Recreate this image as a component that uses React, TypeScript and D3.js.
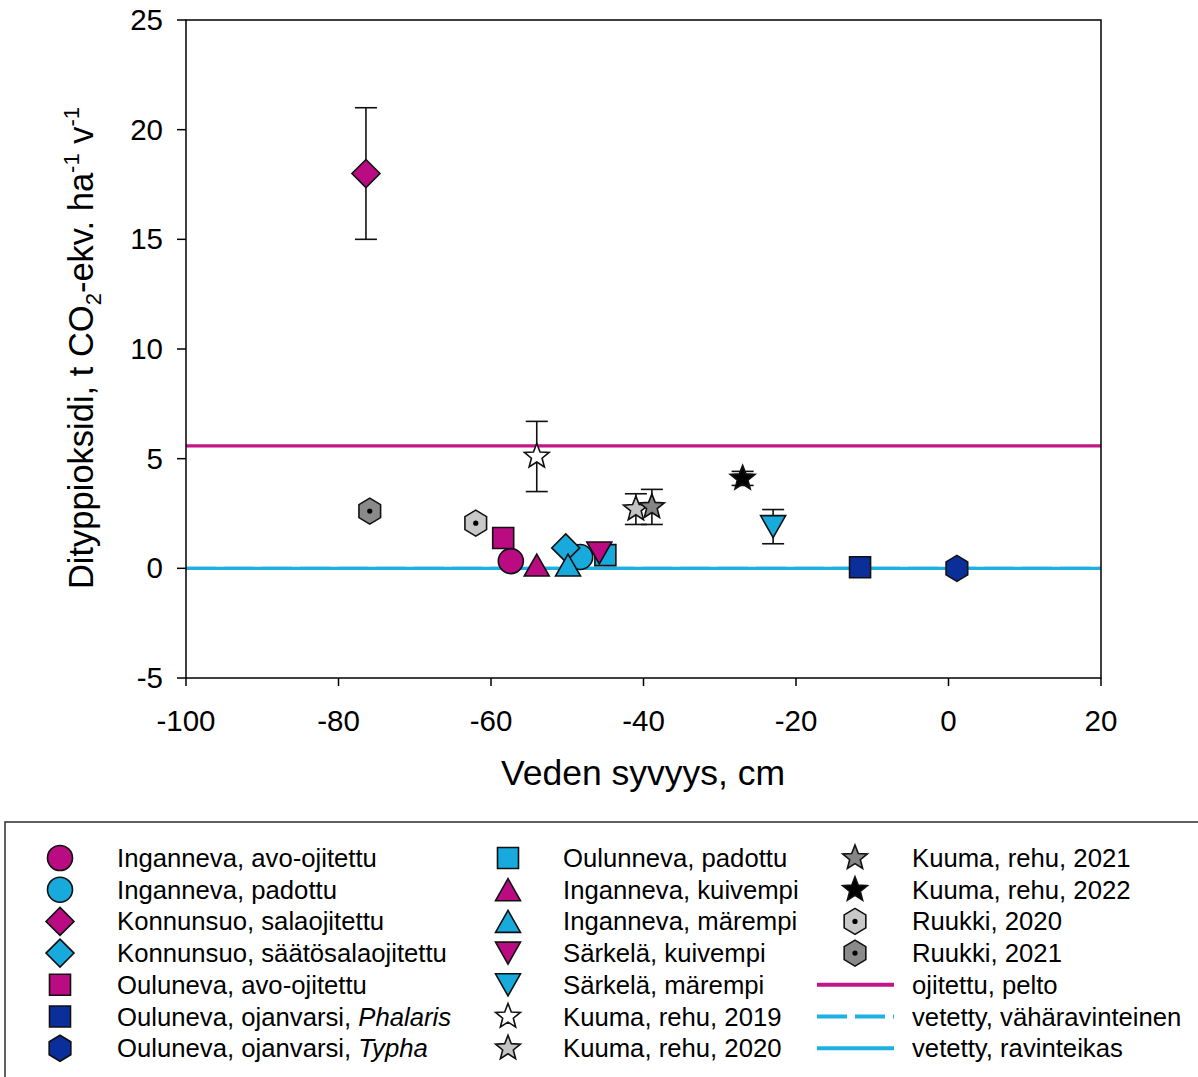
import React from 'react'
import * as d3 from 'd3'

const width = 1198
const height = 1077
const plot = { left: 186, right: 1101, top: 20, bottom: 678 }

const MAG = '#BA0B82'
const CYAN = '#18A9DD'
const NAVY = '#0A2E9A'

// series, in legend order
const names = [
  'Inganneva, avo-ojitettu',
  'Inganneva, padottu',
  'Konnunsuo, salaojitettu',
  'Konnunsuo, säätösalaojitettu',
  'Ouluneva, avo-ojitettu',
  'Ouluneva, ojanvarsi, |Phalaris',
  'Ouluneva, ojanvarsi, |Typha',
  'Oulunneva, padottu',
  'Inganneva, kuivempi',
  'Inganneva, märempi',
  'Särkelä, kuivempi',
  'Särkelä, märempi',
  'Kuuma, rehu, 2019',
  'Kuuma, rehu, 2020',
  'Kuuma, rehu, 2021',
  'Kuuma, rehu, 2022',
  'Ruukki, 2020',
  'Ruukki, 2021',
]
const depth = [-57.4, -48.3, -76.4, -50.2, -58.4, -11.6, 1.1, -45, -54, -49.9, -45.8, -23, -54, -41, -38.9, -27, -62, -75.9]
const emission = [0.33, 0.52, 18, 0.93, 1.38, 0.05, 0, 0.6, 0.15, 0.15, 0.7, 1.9, 5.1, 2.7, 2.8, 4.1, 2.06, 2.61]
const errors = [0, 0, 3, 0, 0, 0, 0, 0, 0, 0, 0, 0.78, 1.6, 0.7, 0.8, 0.32, 0, 0]

// reference lines
const refNames = ['ojitettu, pelto', 'vetetty, vähäravinteinen', 'vetetty, ravinteikas']
const refValues = [5.58, 0, 0]

const xTicks = [-100, -80, -60, -40, -20, 0, 20]
const yTicks = [-5, 0, 5, 10, 15, 20, 25]

// styles
const shapes = ['circle', 'circle', 'diamond', 'diamond', 'square', 'square', 'hexagon', 'square', 'triUp', 'triUp', 'triDown', 'triDown', 'star', 'star', 'star', 'star', 'hexDot', 'hexDot']
const fills = [MAG, CYAN, MAG, CYAN, MAG, NAVY, NAVY, CYAN, MAG, CYAN, MAG, CYAN, '#ffffff', '#c4c4c4', '#858585', '#000000', '#c8c8c8', '#8a8a8a']
const refColors = ['#C2158A', '#1DB0E2', '#1DB0E2']
const refDash = ['', '30 8', '']

const shapePath = (shape: string) => {
  switch (shape) {
    case 'circle': {
      const r = 12.5
      return `M${-r},0a${r},${r} 0 1,0 ${2 * r},0a${r},${r} 0 1,0 ${-2 * r},0Z`
    }
    case 'diamond':
      return 'M0,-14L14,0L0,14L-14,0Z'
    case 'square':
      return 'M-10.5,-10.5H10.5V10.5H-10.5Z'
    case 'triUp':
      return 'M0,-11L12.5,11L-12.5,11Z'
    case 'triDown':
      return 'M-12.5,-11L12.5,-11L0,11Z'
    case 'star': {
      const pts = d3.range(10).map(i => {
        const r = i % 2 === 0 ? 13 : 5.6
        const a = -Math.PI / 2 + (i * Math.PI) / 5
        return [r * Math.cos(a), r * Math.sin(a)]
      })
      return 'M' + pts.map(p => p.join(',')).join('L') + 'Z'
    }
    default: {
      const pts = d3.range(6).map(i => {
        const a = -Math.PI / 2 + (i * Math.PI) / 3
        return [12.5 * Math.cos(a), 13 * Math.sin(a)]
      })
      return 'M' + pts.map(p => p.join(',')).join('L') + 'Z'
    }
  }
}

const Marker = ({ i, cx, cy }: { i: number; cx: number; cy: number }) => (
  <g transform={`translate(${cx},${cy})`}>
    <path d={shapePath(shapes[i])} fill={fills[i]} stroke="#111" strokeWidth={1.6} strokeLinejoin="miter" />
    {shapes[i] === 'hexDot' && <circle r={2.6} fill="#000" />}
  </g>
)

const Label = ({ text }: { text: string }) => {
  const [a, b] = text.split('|')
  return (
    <>
      {a}
      {b && <tspan fontStyle="italic">{b}</tspan>}
    </>
  )
}

export default function App() {
  const x = d3.scaleLinear().domain([-100, 20]).range([plot.left, plot.right])
  const y = d3.scaleLinear().domain([-5, 25]).range([plot.bottom, plot.top])
  const font = '"Liberation Sans", Arial, sans-serif'

  const rowY = (r: number) => 858 + r * 31.7
  const cols = [
    { sym: 60, text: 117 },
    { sym: 508, text: 563 },
    { sym: 855, text: 912 },
  ]
  const legendItems: { col: number; row: number; i: number }[] = names.map((_, i) => ({
    col: Math.floor(i / 7),
    row: i % 7,
    i,
  }))

  return (
    <div style={{ position: 'absolute', left: 0, top: 0 }}>
      <svg width={width} height={height} style={{ display: 'block', fontFamily: font }}>
        <rect width={width} height={height} fill="#fff" />

        {/* reference lines */}
        {refValues.map((v, k) => (
          <line
            key={k}
            x1={plot.left}
            x2={plot.right}
            y1={y(v)}
            y2={y(v)}
            stroke={refColors[k]}
            strokeWidth={3.2}
            strokeDasharray={refDash[k] || undefined}
          />
        ))}

        {/* frame */}
        <rect
          x={plot.left}
          y={plot.top}
          width={plot.right - plot.left}
          height={plot.bottom - plot.top}
          fill="none"
          stroke="#000"
          strokeWidth={1.5}
        />

        {/* x ticks */}
        {xTicks.map(t => (
          <g key={t}>
            <line x1={x(t)} x2={x(t)} y1={plot.bottom} y2={plot.bottom + 8} stroke="#000" strokeWidth={1.5} />
            <text x={x(t)} y={731} textAnchor="middle" fontSize={29.5}>
              {t}
            </text>
          </g>
        ))}
        {/* y ticks */}
        {yTicks.map(t => (
          <g key={t}>
            <line x1={plot.left - 9} x2={plot.left} y1={y(t)} y2={y(t)} stroke="#000" strokeWidth={1.5} />
            <text x={163} y={y(t) + 10} textAnchor="end" fontSize={29.5}>
              {t}
            </text>
          </g>
        ))}

        <text x={643} y={785} textAnchor="middle" fontSize={35.5}>
          Veden syvyys, cm
        </text>
        <text transform="translate(93,348) rotate(-90)" textAnchor="middle" fontSize={34.5}>
          Dityppioksidi, t CO
          <tspan fontSize={22} dy={8}>2</tspan>
          <tspan dy={-8}>-ekv. ha</tspan>
          <tspan fontSize={22} dy={-14}>-1</tspan>
          <tspan dy={14}> v</tspan>
          <tspan fontSize={22} dy={-14}>-1</tspan>
        </text>

        {/* error bars */}
        {names.map((_, i) =>
          errors[i] > 0 ? (
            <g key={i} stroke="#111" strokeWidth={1.6}>
              <line x1={x(depth[i])} x2={x(depth[i])} y1={y(emission[i] - errors[i])} y2={y(emission[i] + errors[i])} />
              <line x1={x(depth[i]) - 11} x2={x(depth[i]) + 11} y1={y(emission[i] + errors[i])} y2={y(emission[i] + errors[i])} />
              <line x1={x(depth[i]) - 11} x2={x(depth[i]) + 11} y1={y(emission[i] - errors[i])} y2={y(emission[i] - errors[i])} />
            </g>
          ) : null
        )}

        {/* markers */}
        {names.map((_, i) => (
          <Marker key={i} i={i} cx={x(depth[i])} cy={y(emission[i])} />
        ))}

        {/* legend */}
        <rect x={5} y={822} width={1210} height={280} fill="none" stroke="#3a3a3a" strokeWidth={1.6} />
        {legendItems.map(({ col, row, i }) => (
          <g key={i}>
            <Marker i={i} cx={cols[col].sym} cy={rowY(row)} />
            <text x={cols[col].text} y={rowY(row) + 9} fontSize={25.7}>
              <Label text={names[i]} />
            </text>
          </g>
        ))}
        {refNames.map((n, k) => (
          <g key={n}>
            <line
              x1={817}
              x2={894}
              y1={rowY(4 + k)}
              y2={rowY(4 + k)}
              stroke={refColors[k]}
              strokeWidth={4}
              strokeDasharray={refDash[k] || undefined}
            />
            <text x={cols[2].text} y={rowY(4 + k) + 9} fontSize={25.7}>
              {n}
            </text>
          </g>
        ))}
      </svg>
    </div>
  )
}
